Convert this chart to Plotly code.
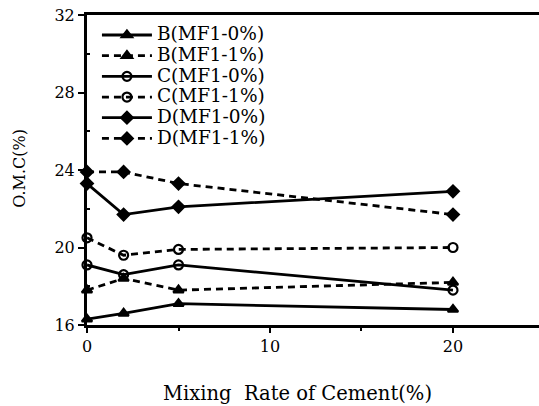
import plotly.graph_objects as go

# Cement mixing rate (%) on the x axis
cement = [0, 2, 5, 20]

# Optimum moisture content O.M.C (%) for each soil / MF1 dosage
b_mf0 = [16.3, 16.6, 17.1, 16.8]
b_mf1 = [17.8, 18.4, 17.8, 18.2]
c_mf0 = [19.1, 18.6, 19.1, 17.8]
c_mf1 = [20.5, 19.6, 19.9, 20.0]
d_mf0 = [23.3, 21.7, 22.1, 22.9]
d_mf1 = [23.9, 23.9, 23.3, 21.7]

labels = ["B(MF1-0%)", "B(MF1-1%)", "C(MF1-0%)",
          "C(MF1-1%)", "D(MF1-0%)", "D(MF1-1%)"]
values = [b_mf0, b_mf1, c_mf0, c_mf1, d_mf0, d_mf1]
dashes = ["solid", "7px,5px"] * 3
symbols = ["triangle-up", "triangle-up", "circle-open",
           "circle-open", "diamond", "diamond"]

SERIF = "DejaVu Serif"

fig = go.Figure()
for name, ys, dash, sym in zip(labels, values, dashes, symbols):
    fig.add_trace(go.Scatter(
        x=cement, y=ys, mode="lines+markers",
        # larger label text inside a compact legend row
        name=f'<span style="font-size:18.5px">{name}</span>',
        line=dict(color="black", width=2.8, dash=dash),
        marker=dict(symbol=sym, size=9, color="black",
                    line=dict(color="black", width=2.2)),
        cliponaxis=False,
    ))

fig.update_layout(
    width=539, height=406,
    margin=dict(l=87, r=0, t=15, b=81),
    paper_bgcolor="white", plot_bgcolor="white",
    font=dict(family=SERIF, color="black", size=17),
    showlegend=True,
    legend=dict(x=0.022, y=0.985, xanchor="left", yanchor="top",
                bgcolor="rgba(0,0,0,0)", font=dict(size=13.6, family=SERIF),
                itemwidth=50, tracegroupgap=0),
    xaxis=dict(range=[0, 24.7], tickvals=[0, 10, 20], showgrid=False,
               zeroline=False, showline=True, linecolor="black", linewidth=3,
               mirror=True, ticks="outside", ticklen=5, tickwidth=2,
               tickcolor="black", tickfont=dict(size=16, family=SERIF),
               minor=dict(tickvals=[5, 15], ticks="outside", ticklen=3,
                          tickwidth=2, tickcolor="black")),
    yaxis=dict(range=[16, 32], tickvals=[16, 20, 24, 28, 32], showgrid=False,
               zeroline=False, showline=True, linecolor="black", linewidth=3,
               ticks="outside", ticklen=6, tickwidth=2, tickcolor="black",
               tickfont=dict(size=16, family=SERIF),
               minor=dict(tickvals=[18, 22, 26, 30], ticks="inside", ticklen=3,
                          tickwidth=2, tickcolor="black")),
    annotations=[
        dict(text="Mixing  Rate of Cement(%)", xref="paper", yref="paper",
             x=0.465, y=-0.222, xanchor="center", yanchor="middle",
             showarrow=False, font=dict(size=19.5, family=SERIF)),
        dict(text="O.M.C(%)", xref="paper", yref="paper",
             x=-0.15, y=0.505, xanchor="center", yanchor="middle",
             textangle=-90, showarrow=False, font=dict(size=16, family=SERIF)),
    ],
)

fig.write_html("out.html")
